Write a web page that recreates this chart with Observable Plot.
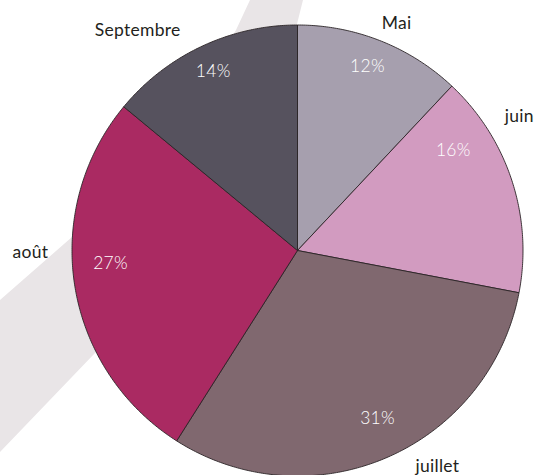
<!DOCTYPE html>
<html>
<head>
<meta charset="utf-8">
<script src="https://cdn.jsdelivr.net/npm/d3@7"></script>
<script src="https://cdn.jsdelivr.net/npm/@observablehq/plot@0.6"></script>
<style>
  html, body { margin: 0; padding: 0; background: #fff; }
  #wrap { position: relative; width: 548px; height: 475px; overflow: hidden; }
  #deco { position: absolute; left: 0; top: 0; }
  #chart { position: absolute; left: 0; top: 0; }
  #chart text { letter-spacing: 0.3px; }
</style>
</head>
<body>
<div id="wrap">
  <svg id="deco" width="548" height="475" viewBox="0 0 548 475">
    <path d="M250,0 L236,30 C190,110 130,190 72,237 L0,300 L0,452 L95,353 C170,260 250,120 296,28 L303,0 Z" fill="#e9e5e7"/>
  </svg>
  <div id="chart"></div>
</div>
<script>
// Data
const months = ["Mai", "juin", "juillet", "août", "Septembre"];
const shares = [12, 16, 31, 27, 14];
const pctLabels = ["12%", "16%", "31%", "27%", "14%"];

// Styles
const colors = ["#a69fae", "#d29bc0", "#80686f", "#aa2a62", "#56525e"];

// Label layout (nudge in degrees from slice mid-angle, radius as fraction of R)
const innerNudge = [-0.8, -14.8, -2.1, 5, 0];
const innerRadius = [0.873, 0.822, 0.825, 0.831, 0.877];
const outerNudge = [2, -13.1, -9.5, 8.6, -10.8];
const outerRadius = [1.098, 1.149, 1.142, 1.184, 1.206];

const total = d3.sum(shares);
const rad = Math.PI / 180;
let acc = 0;
const slices = months.map((m, i) => {
  const a0 = acc / total * 360;
  acc += shares[i];
  const a1 = acc / total * 360;
  return {month: m, a0, a1, mid: (a0 + a1) / 2, i};
});

// Polygon outlines of each slice (geometry derived from data)
const pts = [];
for (const s of slices) {
  pts.push({month: s.month, x: 0, y: 0});
  const n = Math.max(2, Math.ceil((s.a1 - s.a0) / 0.5));
  for (let k = 0; k <= n; k++) {
    const a = (s.a0 + (s.a1 - s.a0) * k / n) * rad;
    pts.push({month: s.month, x: Math.sin(a), y: Math.cos(a)});
  }
  pts.push({month: s.month, x: 0, y: 0});
}

const inner = slices.map(s => {
  const a = (s.mid + innerNudge[s.i]) * rad, r = innerRadius[s.i];
  return {text: pctLabels[s.i], x: r * Math.sin(a), y: r * Math.cos(a)};
});
const outer = slices.map(s => {
  const a = (s.mid + outerNudge[s.i]) * rad, r = outerRadius[s.i];
  return {text: s.month, x: r * Math.sin(a), y: r * Math.cos(a)};
});

const R = 225.5, cx = 297, cy = 250;
const chart = Plot.plot({
  width: 548,
  height: 475,
  style: {background: "transparent", fontFamily: "Lato, sans-serif", overflow: "visible"},
  x: {domain: [-1, 1], range: [cx - R, cx + R], axis: null},
  y: {domain: [-1, 1], range: [cy + R, cy - R], axis: null},
  color: {domain: months, range: colors},
  marks: [
    Plot.line(pts, {x: "x", y: "y", z: "month", fill: "month", stroke: "#2a2426", strokeWidth: 0.9, strokeLinejoin: "round"}),
    Plot.text(inner, {x: "x", y: "y", text: "text", fill: "#ffffff", fontSize: 17.5, fontWeight: 300}),
    Plot.text(outer, {x: "x", y: "y", text: "text", fill: "#231f20", fontSize: 17.5})
  ]
});
document.getElementById("chart").appendChild(chart);
</script>
</body>
</html>
